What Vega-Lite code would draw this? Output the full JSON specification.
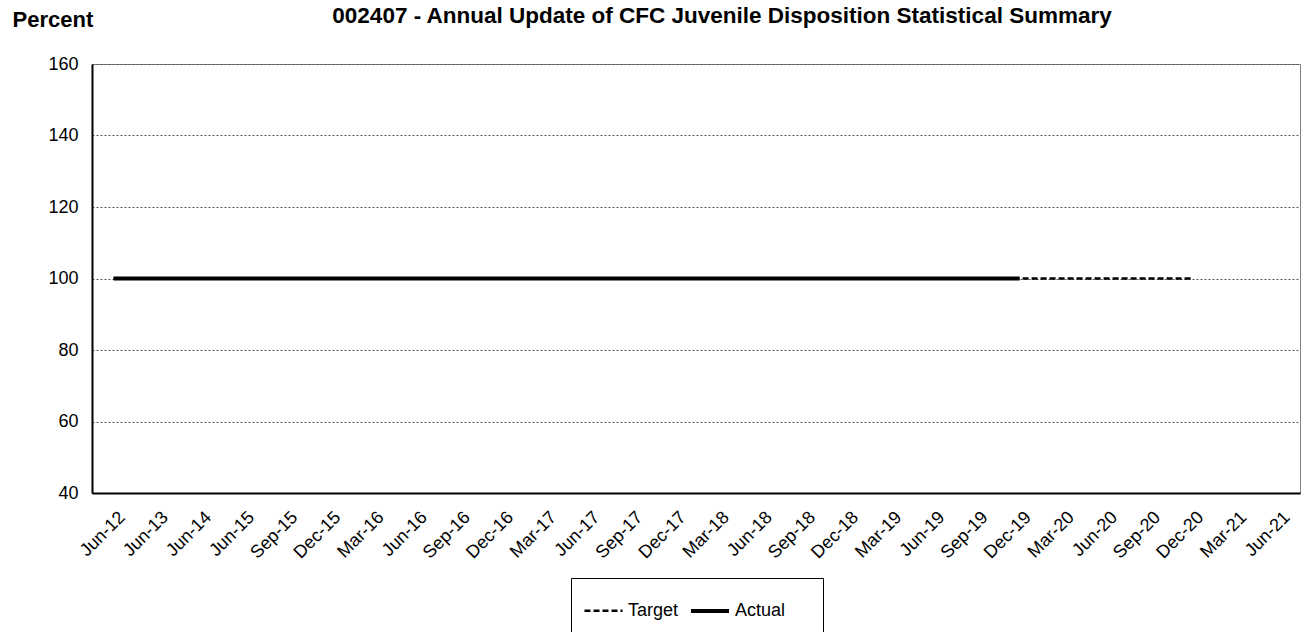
{
  "$schema": "https://vega.github.io/schema/vega-lite/v6.json",
  "width": 1208,
  "height": 429,
  "autosize": {"type": "none"},
  "padding": {"left": 92, "top": 64, "right": 6, "bottom": 139},
  "background": "white",
  "config": {
    "font": "Liberation Sans",
    "view": {"stroke": "#808080", "strokeWidth": 1},
    "axis": {"labelColor": "black", "labelFont": "Liberation Sans", "titleFont": "Liberation Sans"}
  },
  "title": {
    "text": "002407 - Annual Update of CFC Juvenile Disposition Statistical Summary",
    "font": "Liberation Sans",
    "fontSize": 22.5,
    "fontWeight": "bold",
    "color": "black",
    "anchor": "middle",
    "baseline": "alphabetic",
    "dx": 26,
    "offset": -37
  },
  "datasets": {
    "target": [
      {"period": "Jun-12", "value": 100, "series": "Target"},
      {"period": "Jun-13", "value": 100, "series": "Target"},
      {"period": "Jun-14", "value": 100, "series": "Target"},
      {"period": "Jun-15", "value": 100, "series": "Target"},
      {"period": "Sep-15", "value": 100, "series": "Target"},
      {"period": "Dec-15", "value": 100, "series": "Target"},
      {"period": "Mar-16", "value": 100, "series": "Target"},
      {"period": "Jun-16", "value": 100, "series": "Target"},
      {"period": "Sep-16", "value": 100, "series": "Target"},
      {"period": "Dec-16", "value": 100, "series": "Target"},
      {"period": "Mar-17", "value": 100, "series": "Target"},
      {"period": "Jun-17", "value": 100, "series": "Target"},
      {"period": "Sep-17", "value": 100, "series": "Target"},
      {"period": "Dec-17", "value": 100, "series": "Target"},
      {"period": "Mar-18", "value": 100, "series": "Target"},
      {"period": "Jun-18", "value": 100, "series": "Target"},
      {"period": "Sep-18", "value": 100, "series": "Target"},
      {"period": "Dec-18", "value": 100, "series": "Target"},
      {"period": "Mar-19", "value": 100, "series": "Target"},
      {"period": "Jun-19", "value": 100, "series": "Target"},
      {"period": "Sep-19", "value": 100, "series": "Target"},
      {"period": "Dec-19", "value": 100, "series": "Target"},
      {"period": "Mar-20", "value": 100, "series": "Target"},
      {"period": "Jun-20", "value": 100, "series": "Target"},
      {"period": "Sep-20", "value": 100, "series": "Target"},
      {"period": "Dec-20", "value": 100, "series": "Target"}
    ],
    "actual": [
      {"period": "Jun-12", "value": 100, "series": "Actual"},
      {"period": "Jun-13", "value": 100, "series": "Actual"},
      {"period": "Jun-14", "value": 100, "series": "Actual"},
      {"period": "Jun-15", "value": 100, "series": "Actual"},
      {"period": "Sep-15", "value": 100, "series": "Actual"},
      {"period": "Dec-15", "value": 100, "series": "Actual"},
      {"period": "Mar-16", "value": 100, "series": "Actual"},
      {"period": "Jun-16", "value": 100, "series": "Actual"},
      {"period": "Sep-16", "value": 100, "series": "Actual"},
      {"period": "Dec-16", "value": 100, "series": "Actual"},
      {"period": "Mar-17", "value": 100, "series": "Actual"},
      {"period": "Jun-17", "value": 100, "series": "Actual"},
      {"period": "Sep-17", "value": 100, "series": "Actual"},
      {"period": "Dec-17", "value": 100, "series": "Actual"},
      {"period": "Mar-18", "value": 100, "series": "Actual"},
      {"period": "Jun-18", "value": 100, "series": "Actual"},
      {"period": "Sep-18", "value": 100, "series": "Actual"},
      {"period": "Dec-18", "value": 100, "series": "Actual"},
      {"period": "Mar-19", "value": 100, "series": "Actual"},
      {"period": "Jun-19", "value": 100, "series": "Actual"},
      {"period": "Sep-19", "value": 100, "series": "Actual"},
      {"period": "Dec-19", "value": 100, "series": "Actual"}
    ]
  },
  "encoding": {
    "x": {
      "field": "period",
      "type": "ordinal",
      "title": null,
      "scale": {
        "type": "point",
        "padding": 0.5,
        "domain": ["Jun-12","Jun-13","Jun-14","Jun-15","Sep-15","Dec-15","Mar-16","Jun-16","Sep-16","Dec-16","Mar-17","Jun-17","Sep-17","Dec-17","Mar-18","Jun-18","Sep-18","Dec-18","Mar-19","Jun-19","Sep-19","Dec-19","Mar-20","Jun-20","Sep-20","Dec-20","Mar-21","Jun-21"]
      },
      "axis": {
        "labelAngle": -45,
        "labelAlign": "right",
        "labelBaseline": "top",
        "labelFontSize": 18,
        "labelPadding": 15,
        "labelOffset": 2,
        "ticks": false,
        "domainColor": "black",
        "domainWidth": 2,
        "grid": false
      }
    },
    "y": {
      "field": "value",
      "type": "quantitative",
      "scale": {"domain": [40, 160], "nice": false, "zero": false},
      "axis": {
        "values": [40, 60, 80, 100, 120, 140, 160],
        "title": "Percent",
        "titleAngle": 0,
        "titleAlign": "left",
        "titleBaseline": "alphabetic",
        "titleX": -80,
        "titleY": -38,
        "titleFontSize": 22,
        "titleFontWeight": "bold",
        "titleColor": "black",
        "labelFontSize": 18,
        "labelPadding": 14,
        "ticks": false,
        "domainColor": "black",
        "domainWidth": 2,
        "grid": true,
        "gridColor": "#555555",
        "gridDash": [2, 2],
        "gridWidth": 1
      }
    },
    "strokeDash": {
      "field": "series",
      "type": "nominal",
      "scale": {"domain": ["Target", "Actual"], "range": [[6, 3], [1, 0]]},
      "legend": {
        "title": "\u00a0",
        "titleOrient": "right",
        "titlePadding": 26,
        "titleFontSize": 18,
        "orient": "none",
        "legendX": 479,
        "legendY": 514,
        "direction": "horizontal",
        "strokeColor": "black",
        "fillColor": "white",
        "padding": 12,
        "symbolType": "stroke",
        "symbolSize": 1444,
        "symbolStrokeColor": "black",
        "labelFontSize": 18,
        "labelFont": "Liberation Sans",
        "labelColor": "black",
        "columnPadding": 4,
        "labelOffset": 4
      }
    },
    "strokeWidth": {
      "field": "series",
      "type": "nominal",
      "scale": {"domain": ["Target", "Actual"], "range": [2.5, 4]},
      "legend": {
        "title": "\u00a0",
        "titleOrient": "right",
        "orient": "none",
        "legendX": 479,
        "legendY": 514,
        "direction": "horizontal"
      }
    },
    "color": {"value": "black"}
  },
  "layer": [
    {"data": {"name": "target"}, "mark": {"type": "line"}},
    {"data": {"name": "actual"}, "mark": {"type": "line"}}
  ]
}
